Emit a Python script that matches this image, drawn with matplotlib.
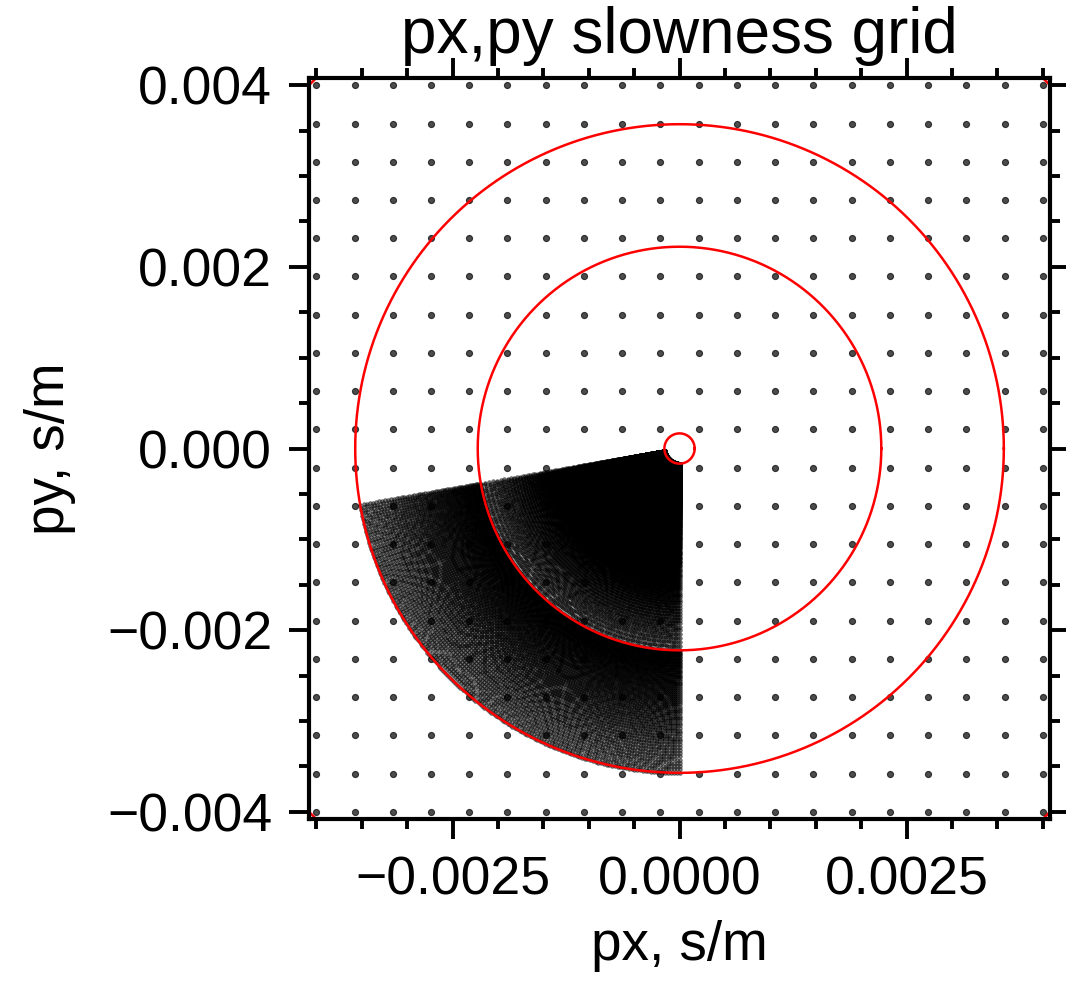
"""Slowness-grid coverage: regular px,py grid with a fan of slowness vectors."""
import matplotlib.pyplot as plt
import numpy as np
from matplotlib.ticker import MultipleLocator

# regular px,py grid (s/m)
GRID_MIN = -0.004
GRID_MAX = 0.004
GRID_N = 20

# apparent velocities (m/s) bounding the fan of slowness vectors
V_FAST = 6000.0
V_MID = 450.0
V_SLOW = 280.0
DV_FAST = 10.0   # velocity step between V_MID and V_FAST
DV_SLOW = 3.0    # velocity step between V_SLOW and V_MID

# back-azimuth range, degrees clockwise from north
BAZ_START = 180.0
BAZ_END = 260.0
DBAZ = 0.5

# reference velocities drawn as slowness circles (m/s)
CIRCLE_VELOCITIES = [6000.0, 450.0, 280.0, 175.0]

AX_LIM = 0.00408


def fan_points():
    v = np.concatenate([
        np.arange(V_MID, V_FAST + DV_FAST / 2, DV_FAST),
        np.arange(V_SLOW, V_MID, DV_SLOW),
    ])
    p = 1.0 / v
    baz = np.deg2rad(np.arange(BAZ_START, BAZ_END + DBAZ / 2, DBAZ))
    P, B = np.meshgrid(p, baz)
    return (P * np.sin(B)).ravel(), (P * np.cos(B)).ravel()


def main():
    plt.rcParams["font.family"] = ["Liberation Sans", "DejaVu Sans"]
    fig = plt.figure(figsize=(10.66, 9.85), dpi=100)
    ax = fig.add_axes([0.2899, 0.1685, 0.6951, 0.7523])

    # semi-transparent markers so that overlapping points build up to black
    fx, fy = fan_points()
    ax.plot(fx, fy, "o", ms=2.6, color="k", mew=0.6, alpha=0.5, ls="none")

    g = np.linspace(GRID_MIN, GRID_MAX, GRID_N)
    gx, gy = np.meshgrid(g, g)
    ax.plot(gx.ravel(), gy.ravel(), "o", ms=4.4, color="k", mew=0.8, alpha=0.7, ls="none")

    theta = np.linspace(0.0, 2.0 * np.pi, 721)
    for v in CIRCLE_VELOCITIES:
        r = 1.0 / v
        ax.plot(r * np.cos(theta), r * np.sin(theta), color="red", lw=1.8)

    ax.set_xlim(-AX_LIM, AX_LIM)
    ax.set_ylim(-AX_LIM, AX_LIM)

    ax.xaxis.set_major_locator(MultipleLocator(0.0025))
    ax.xaxis.set_minor_locator(MultipleLocator(0.0005))
    ax.yaxis.set_major_locator(MultipleLocator(0.002))
    ax.yaxis.set_minor_locator(MultipleLocator(0.0005))
    ax.tick_params(which="both", direction="out", top=True, right=True,
                   width=2.8, labelsize=38.5, pad=12)
    ax.tick_params(which="major", length=14.5)
    ax.tick_params(which="minor", length=7.5)
    for s in ax.spines.values():
        s.set_linewidth(3.0)

    ax.set_xlabel("px, s/m", fontsize=39.5, labelpad=10)
    ax.set_ylabel("py, s/m", fontsize=39.5, labelpad=22)
    ax.set_title("px,py slowness grid", fontsize=46, pad=18)

    fig.savefig("out.png", dpi=100)


if __name__ == "__main__":
    main()
